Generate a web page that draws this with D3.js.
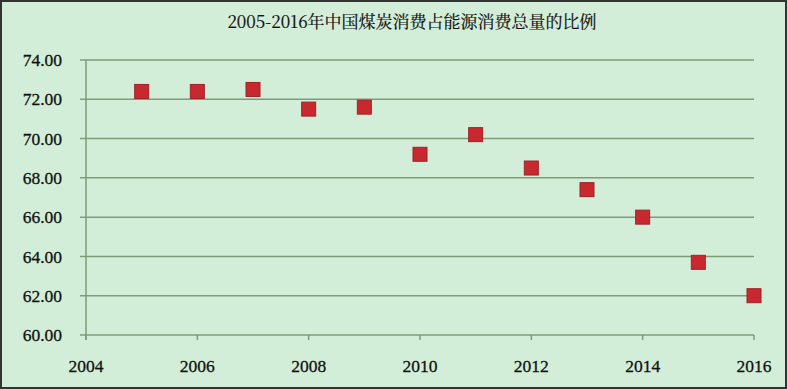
<!DOCTYPE html>
<html>
<head>
<meta charset="utf-8">
<script src="https://cdn.jsdelivr.net/npm/d3@7"></script>
<style>
  html, body { margin: 0; padding: 0; background: #fff; }
  svg { display: block; }
</style>
</head>
<body>
<svg width="787" height="389"></svg>
<script>
// coal share of total energy consumption, China
const years = [2005, 2006, 2007, 2008, 2009, 2010, 2011, 2012, 2013, 2014, 2015, 2016];
const share = [72.4, 72.4, 72.5, 71.5, 71.6, 69.2, 70.2, 68.5, 67.4, 66.0, 63.7, 62.0];
const xTicks = [2004, 2006, 2008, 2010, 2012, 2014, 2016];
const yTicks = [60, 62, 64, 66, 68, 70, 72, 74];
const title = '2005-2016年中国煤炭消费占能源消费总量的比例';

const W = 787, H = 389;
const svg = d3.select('svg');

svg.append('rect')
    .attr('x', 1).attr('y', 1)
    .attr('width', W - 2).attr('height', H - 2)
    .attr('fill', '#d3eed8')
    .attr('stroke', '#333')
    .attr('stroke-width', 2);

const x = d3.scaleLinear().domain([2004, 2016]).range([86, 754]);
const y = d3.scaleLinear().domain([60, 74]).range([335, 60]);

const grid = '#7d9c7a';
const serif = '"Liberation Serif", "DejaVu Serif", serif';

// horizontal grid lines
svg.append('g')
    .selectAll('line')
    .data(yTicks)
    .join('line')
    .attr('x1', 80)
    .attr('x2', x(2016))
    .attr('y1', d => y(d))
    .attr('y2', d => y(d))
    .attr('stroke', grid)
    .attr('stroke-width', 1.5);

// y axis
svg.append('line')
    .attr('x1', x(2004)).attr('x2', x(2004))
    .attr('y1', y(74)).attr('y2', y(60) + 5)
    .attr('stroke', grid)
    .attr('stroke-width', 1.5);

svg.append('g')
    .selectAll('text')
    .data(yTicks)
    .join('text')
    .attr('x', 62)
    .attr('y', d => y(d))
    .attr('dy', '0.35em')
    .attr('text-anchor', 'end')
    .style('font-family', serif)
    .style('font-size', '17.5px')
    .attr('fill', '#111')
    .attr('stroke', '#111')
    .attr('stroke-width', 0.3)
    .text(d => d.toFixed(2));

// x axis ticks and labels
const xg = svg.append('g');
xg.selectAll('line')
    .data(xTicks)
    .join('line')
    .attr('x1', d => x(d)).attr('x2', d => x(d))
    .attr('y1', y(60)).attr('y2', y(60) + 5)
    .attr('stroke', grid)
    .attr('stroke-width', 1.5);

xg.selectAll('text')
    .data(xTicks)
    .join('text')
    .attr('x', d => x(d))
    .attr('y', 372)
    .attr('text-anchor', 'middle')
    .style('font-family', serif)
    .style('font-size', '17.5px')
    .attr('fill', '#111')
    .attr('stroke', '#111')
    .attr('stroke-width', 0.3)
    .text(d => d);

// markers
const s = 14;
svg.append('g')
    .selectAll('rect')
    .data(years.map((yr, i) => ({ yr, v: share[i] })))
    .join('rect')
    .attr('x', d => x(d.yr) - s / 2)
    .attr('y', d => y(d.v) - s / 2)
    .attr('width', s)
    .attr('height', s)
    .attr('fill', '#c8292f')
    .attr('stroke', '#9e2226')
    .attr('stroke-width', 1);

svg.append('text')
    .attr('x', 412)
    .attr('y', 28)
    .attr('text-anchor', 'middle')
    .style('font-family', '"Noto Serif CJK SC", "Noto Sans CJK SC", serif')
    .style('font-size', '17px')
    .attr('fill', '#111')
    .attr('stroke', '#111')
    .attr('stroke-width', 0.2)
    .text(title);
</script>
</body>
</html>
